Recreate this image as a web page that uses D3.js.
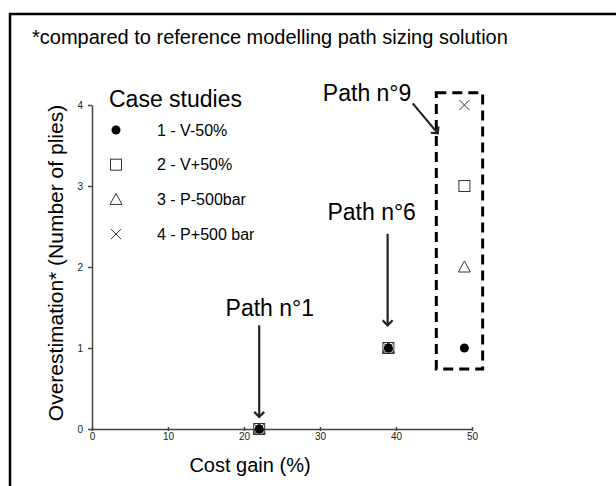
<!DOCTYPE html>
<html>
<head>
<meta charset="utf-8">
<script src="https://cdn.jsdelivr.net/npm/d3@7"></script>
<style>
  body { margin: 0; background: #fff; }
  text { font-family: "Liberation Sans", Arial, sans-serif; }
</style>
</head>
<body>
<div id="container"></div>
<script>
// cost gain (%) of each path, and overestimation (plies) per case study
let pathNames = ["Path n°1", "Path n°6", "Path n°9"];
let costGain = [22, 39, 49];
let caseStudies = ["1 - V-50%", "2 - V+50%", "3 - P-500bar", "4 - P+500 bar"];
let caseV50minus = [0, 1, 1];
let caseV50plus = [0, 1, 3];
let caseP500minus = [0, 1, 2];
let caseP500plus = [0, 1, 4];
let xTicks = [0, 10, 20, 30, 40, 50];
let yTicks = [0, 1, 2, 3, 4];

// annotation anchors, in data units (label x/y, arrow start & end)
let labelPos = [[23.4, 1.39], [36.8, 2.58], [36.2, 4.05]];
let arrowFrom = [[22, 1.28], [38.9, 2.41], [42.2, 4.02]];
let arrowTo = [[22, 0.15], [38.9, 1.28], [45.5, 3.65]];
let path9Box = [45.3, 51.4, 0.74, 4.15];

let w = 616;
let h = 486;

let viz = d3.select("#container")
  .append("svg")
    .attr("width", w)
    .attr("height", h)
    .style("background-color", "white");

// frame (only top & left edges are visible in the crop)
viz.append("path")
  .attr("d", "M10," + h + " L10,14 L" + w + ",14")
  .attr("fill", "none")
  .attr("stroke", "black")
  .attr("stroke-width", 2.5);

viz.append("text")
  .attr("x", 32)
  .attr("y", 44)
  .style("font-size", "20px")
  .text("*compared to reference modelling path sizing solution");

let xScale = d3.scaleLinear().domain([0, 50]).range([92, 472]);
let yScale = d3.scaleLinear().domain([0, 4]).range([429, 105]);

let axisColor = "#444";

// x axis with crossing ticks
let xAxis = viz.append("g")
  .attr("transform", "translate(0," + yScale(0) + ")")
  .call(d3.axisBottom(xScale).tickValues(xTicks).tickFormat(d3.format("d"))
    .tickSize(2).tickSizeOuter(0).tickPadding(2));
xAxis.selectAll(".tick line").attr("y1", -2);
xAxis.selectAll("line, path").attr("stroke", axisColor).attr("stroke-width", 1.5);
xAxis.selectAll("text").style("font-size", "10px").attr("fill", "#222")
  .style("font-family", "Liberation Sans, Arial, sans-serif");

let yAxis = viz.append("g")
  .attr("transform", "translate(" + xScale(0) + ",0)")
  .call(d3.axisLeft(yScale).tickValues(yTicks).tickFormat(d3.format("d"))
    .tickSize(4).tickSizeOuter(0).tickPadding(5));
yAxis.selectAll("line, path").attr("stroke", axisColor).attr("stroke-width", 1.5);
yAxis.selectAll("text").style("font-size", "10px").attr("fill", "#222")
  .style("font-family", "Liberation Sans, Arial, sans-serif");

viz.append("text")
  .attr("x", 250)
  .attr("y", 472)
  .attr("text-anchor", "middle")
  .style("font-size", "20px")
  .text("Cost gain (%)");

viz.append("text")
  .attr("transform", "translate(63,263) rotate(-90)")
  .attr("text-anchor", "middle")
  .style("font-size", "21px")
  .text("Overestimation* (Number of plies)");

// markers
let symbolTypes = ["dot", "square", "triangle", "cross"];
function drawSymbol(g, type) {
  if (type == "dot") {
    g.append("circle").attr("r", 4.5).attr("fill", "black");
  } else if (type == "square") {
    g.append("rect").attr("x", -5.5).attr("y", -5.5).attr("width", 11).attr("height", 11)
      .attr("fill", "none").attr("stroke", "#333").attr("stroke-width", 1);
  } else if (type == "triangle") {
    g.append("path").attr("d", "M0,-6 L6,5 L-6,5 Z")
      .attr("fill", "none").attr("stroke", "#333").attr("stroke-width", 1);
  } else {
    g.append("path").attr("d", "M-5,-5 L5,5 M-5,5 L5,-5")
      .attr("fill", "none").attr("stroke", "#333").attr("stroke-width", 1);
  }
}

let allSeries = [caseV50minus, caseV50plus, caseP500minus, caseP500plus];
// draw cross, triangle, square first and the dot on top
[3, 2, 1, 0].forEach(function(s) {
  let pts = viz.selectAll(".pt" + s).data(allSeries[s]).enter()
    .append("g")
      .attr("class", "pt" + s)
      .attr("transform", function(d, i) {
        return "translate(" + xScale(costGain[i]) + "," + yScale(d) + ")";
      });
  pts.each(function() { drawSymbol(d3.select(this), symbolTypes[s]); });
});

// legend
viz.append("text")
  .attr("x", 109)
  .attr("y", 107)
  .style("font-size", "23px")
  .text("Case studies");

let legendRows = viz.selectAll(".legendrow").data(caseStudies).enter()
  .append("g")
    .attr("class", "legendrow")
    .attr("transform", function(d, i) { return "translate(116," + (130 + i * 34.7) + ")"; });
legendRows.each(function(d, i) { drawSymbol(d3.select(this), symbolTypes[i]); });
legendRows.append("text")
  .attr("x", 41)
  .attr("y", 5.5)
  .style("font-size", "16px")
  .text(function(d) { return d; });

// dashed box around path n°9
viz.append("rect")
  .attr("x", xScale(path9Box[0]))
  .attr("y", yScale(path9Box[3]))
  .attr("width", xScale(path9Box[1]) - xScale(path9Box[0]))
  .attr("height", yScale(path9Box[2]) - yScale(path9Box[3]))
  .attr("fill", "none")
  .attr("stroke", "black")
  .attr("stroke-width", 3)
  .style("stroke-dasharray", "10,6");

// arrows and path labels
viz.append("defs").append("marker")
  .attr("id", "arrowhead")
  .attr("viewBox", "-6 -6 12 12")
  .attr("refX", 0)
  .attr("refY", 0)
  .attr("markerWidth", 12)
  .attr("markerHeight", 12)
  .attr("markerUnits", "userSpaceOnUse")
  .attr("orient", "auto")
  .append("path")
    .attr("d", "M-5,-5 L0,0 L-5,5")
    .attr("fill", "none")
    .attr("stroke", "#222")
    .attr("stroke-width", 2.2);

viz.selectAll(".arrow").data(pathNames).enter()
  .append("line")
    .attr("class", "arrow")
    .attr("x1", function(d, i) { return xScale(arrowFrom[i][0]); })
    .attr("y1", function(d, i) { return yScale(arrowFrom[i][1]); })
    .attr("x2", function(d, i) { return xScale(arrowTo[i][0]); })
    .attr("y2", function(d, i) { return yScale(arrowTo[i][1]); })
    .attr("stroke", "#222")
    .attr("stroke-width", 2.2)
    .attr("marker-end", "url(#arrowhead)");

viz.selectAll(".pathlabel").data(pathNames).enter()
  .append("text")
    .attr("class", "pathlabel")
    .attr("x", function(d, i) { return xScale(labelPos[i][0]); })
    .attr("y", function(d, i) { return yScale(labelPos[i][1]); })
    .attr("text-anchor", "middle")
    .style("font-size", "23px")
    .text(function(d) { return d; });
</script>
</body>
</html>
